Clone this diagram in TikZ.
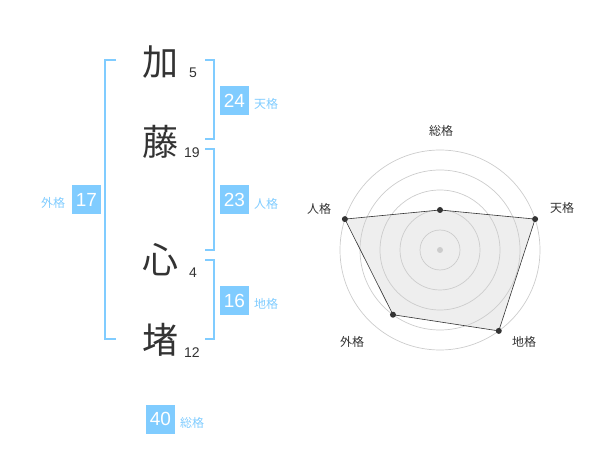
\documentclass[tikz,border=0pt]{standalone}
\usepackage{fontspec}
\setmainfont{Liberation Sans}
\newfontfamily\jp{Noto Sans CJK JP}
\usepackage{tikz}
\usetikzlibrary{positioning,calc}

\definecolor{skyblue}{RGB}{128,204,255}
\definecolor{darktext}{RGB}{51,51,51}
\definecolor{ringgray}{RGB}{204,204,204}
\definecolor{areagray}{RGB}{238,238,238}

\tikzset{
  kanji/.style={font=\jp\fontsize{36}{36}\selectfont, text=darktext, inner sep=0pt},
  strokes/.style={font=\fontsize{14}{14}\selectfont, text=darktext, inner sep=0pt},
  bracket/.style={draw=skyblue, line width=2pt},
  kakubox/.style={fill=skyblue, text=white, minimum size=29pt, inner sep=0pt, font=\fontsize{19}{19}\selectfont},
  kakulabel/.style={font=\jp\fontsize{12}{12}\selectfont, text=skyblue, inner sep=0pt},
  ring/.style={draw=ringgray, line width=0.7pt},
  axislabel/.style={font=\jp\fontsize{12}{12}\selectfont, text=darktext, inner sep=0pt},
  dot/.style={circle, fill=darktext, inner sep=0pt, minimum size=6pt}
}

\begin{document}
\begin{tikzpicture}[x=1pt,y=-1pt]
		\useasboundingbox (0,0) rectangle (600,470);
		% name, one character per line
		\node[kanji] (ka) at (160,62) {加};
		\node[kanji] (to) at (160,142) {藤};
		\node[kanji] (shin) at (160,260) {心};
		\node[kanji] (sho) at (160,340) {堵};
		\node[strokes] (s5) at (193,73) {5};
		\node[strokes] (s19) at (192,153) {19};
		\node[strokes] (s4) at (193,273) {4};
		\node[strokes] (s12) at (192,353) {12};
		% brackets
		\draw[bracket] (116,60) -- (105,60) -- (105,339) -- (116,339);
		\draw[bracket] (205,60) -- (214,60) -- (214,139) -- (205,139);
		\draw[bracket] (205,149) -- (214,149) -- (214,250) -- (205,250);
		\draw[bracket] (205,260) -- (214,260) -- (214,339) -- (205,339);
		% scores
		\node[kakubox] (ten) at (234.5,100.5) {24};
		\node[kakulabel] (tenl) at (266,104) {天格};
		\node[kakubox] (jin) at (234.5,200) {23};
		\node[kakulabel] (jinl) at (266,204) {人格};
		\node[kakubox] (chi) at (234.5,300.5) {16};
		\node[kakulabel] (chil) at (266,304) {地格};
		\node[kakubox] (gai) at (86.5,200) {17};
		\node[kakulabel] (gail) at (53,203) {外格};
		\node[kakubox] (sou) at (160.5,419) {40};
		\node[kakulabel] (soul) at (192,423) {総格};
		% radar chart
		\coordinate (c) at (440,250);
		\coordinate (psou) at ($(c)+(-90:40)$);
		\coordinate (pten) at ($(c)+(-18:100)$);
		\coordinate (pchi) at ($(c)+(54:100)$);
		\coordinate (pgai) at ($(c)+(126:80)$);
		\coordinate (pjin) at ($(c)+(198:100)$);
		\fill[areagray] (psou) -- (pten) -- (pchi) -- (pgai) -- (pjin) -- cycle;
		\draw[ring] (c) circle (20);
		\draw[ring] (c) circle (40);
		\draw[ring] (c) circle (60);
		\draw[ring] (c) circle (80);
		\draw[ring] (c) circle (100);
		\fill[ringgray] (c) circle (3);
		\draw[darktext, line width=0.6pt] (psou) -- (pten) -- (pchi) -- (pgai) -- (pjin) -- cycle;
		\node[dot] (dsou) at (psou) {};
		\node[dot] (dten) at (pten) {};
		\node[dot] (dchi) at (pchi) {};
		\node[dot] (dgai) at (pgai) {};
		\node[dot] (djin) at (pjin) {};
		\node[axislabel] (asou) at (441,131) {総格};
		\node[axislabel] (aten) at (562,208) {天格};
		\node[axislabel] (achi) at (524,342) {地格};
		\node[axislabel] (agai) at (352,342) {外格};
		\node[axislabel] (ajin) at (319,209) {人格};
\end{tikzpicture}
\end{document}
